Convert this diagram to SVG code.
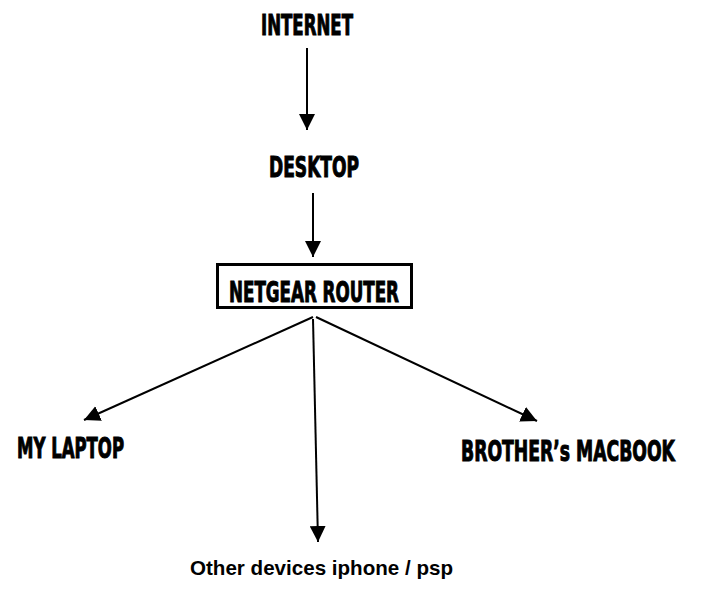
<svg xmlns="http://www.w3.org/2000/svg" width="711" height="595" viewBox="0 0 711 595">
  <style>
    .lbl { font-family: "Liberation Sans Narrow", "DejaVu Sans Condensed", "Liberation Sans", sans-serif; font-weight: bold; fill: #000; stroke: #000; stroke-width: 1; }
    .sub { font-family: "Liberation Sans", Arial, sans-serif; font-weight: bold; fill: #000; }
    .edge { stroke: #000; stroke-width: 2; fill: none; marker-end: url(#arrow); }
  </style>
  <defs>
    <marker id="arrow" markerUnits="userSpaceOnUse" markerWidth="16" markerHeight="16" refX="16" refY="8" orient="auto" viewBox="0 0 16 16">
      <path d="M0,0 L16,8 L0,16 z" fill="#000"/>
    </marker>
  </defs>
  <rect width="711" height="595" fill="#fff"/>
  <g id="connectors">
    <line class="edge" x1="307" y1="48" x2="307" y2="130"/>
    <line class="edge" x1="313" y1="193" x2="313" y2="257"/>
    <line class="edge" x1="313" y1="317" x2="84" y2="420"/>
    <line class="edge" x1="313" y1="319" x2="318" y2="542"/>
    <line class="edge" x1="316" y1="317" x2="537" y2="421"/>
  </g>
  <g id="internet">
    <text class="lbl" transform="translate(261,35) scale(0.65,1)" x="0" y="0" font-size="28" textLength="141.5" lengthAdjust="spacingAndGlyphs">INTERNET</text>
  </g>
  <g id="desktop">
    <text class="lbl" transform="translate(269,177) scale(0.65,1)" x="0" y="0" font-size="28" textLength="138.5" lengthAdjust="spacingAndGlyphs">DESKTOP</text>
  </g>
  <g id="router">
    <rect x="217.5" y="264.5" width="194" height="43" fill="#fff" stroke="#000" stroke-width="3"/>
    <text class="lbl" transform="translate(229,302) scale(0.65,1)" x="0" y="0" font-size="29" textLength="261.5" lengthAdjust="spacingAndGlyphs">NETGEAR ROUTER</text>
  </g>
  <g id="laptop">
    <text class="lbl" transform="translate(17,458) scale(0.65,1)" x="0" y="0" font-size="28" textLength="164.6" lengthAdjust="spacingAndGlyphs">MY LAPTOP</text>
  </g>
  <g id="macbook">
    <text class="lbl" transform="translate(461,461) scale(0.65,1)" x="0" y="0" font-size="29" textLength="329.2" lengthAdjust="spacingAndGlyphs">BROTHER’s MACBOOK</text>
  </g>
  <g id="other">
    <text class="sub" x="190" y="575" font-size="20.5" textLength="263" lengthAdjust="spacingAndGlyphs">Other devices iphone / psp</text>
  </g>
</svg>
